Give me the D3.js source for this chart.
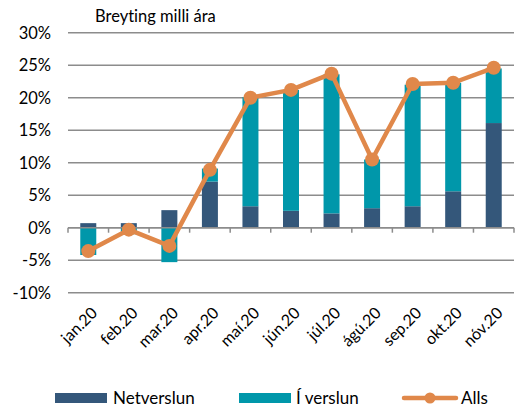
<!DOCTYPE html>
<html>
<head>
<meta charset="utf-8">
<script src="https://cdn.jsdelivr.net/npm/d3@7"></script>
<style>
  body { margin: 0; background: #fff; }
  svg { font-family: Lato, "Open Sans", sans-serif; font-variant-ligatures: none; }
</style>
</head>
<body>
<svg id="chart" width="522" height="407"></svg>
<script>
"use strict";

let months = ["jan.20", "feb.20", "mar.20", "apr.20", "maí.20", "jún.20", "júl.20", "ágú.20", "sep.20", "okt.20", "nóv.20"];
let netverslun = [0.7, 0.7, 2.7, 7.1, 3.3, 2.6, 2.2, 3.0, 3.3, 5.6, 16.1];
let iVerslun = [-4.2, -1.0, -5.3, 2.0, 16.8, 18.6, 21.4, 7.5, 18.7, 16.7, 8.4];
let alls = [-3.6, -0.3, -2.8, 8.9, 20.0, 21.2, 23.7, 10.5, 22.1, 22.3, 24.6];
let yTicks = [-10, -5, 0, 5, 10, 15, 20, 25, 30];

let colNet = "#34577a", colI = "#0097aa", colAlls = "#e0884a";

let svg = d3.select("#chart");
let x = d3.scaleBand().domain(months).range([68, 514]);
let y = d3.scaleLinear().domain([-10, 30]).range([292.7, 32.7]);

// gridlines
svg.append("g").selectAll("line").data(yTicks).enter().append("line")
    .attr("x1", 68).attr("x2", 514)
    .attr("y1", function (d) { return y(d); }).attr("y2", function (d) { return y(d); })
    .attr("stroke", "#8c8c8c").attr("stroke-width", 1.5);

svg.append("g").selectAll("text").data(yTicks).enter().append("text")
    .attr("x", 51).attr("y", function (d) { return y(d); }).attr("dy", "0.36em")
    .attr("text-anchor", "end").attr("font-size", 16.5).attr("fill", "#000")
    .text(function (d) { return d + "%"; });

// stacked bars: positives stack up from 0, negatives down from 0
let bw = 16;
let stacks = months.map(function (m, i) {
    let vals = [{ key: "net", v: netverslun[i] }, { key: "i", v: iVerslun[i] }];
    let pos = 0, neg = 0;
    return vals.map(function (d) {
        let y0, y1;
        if (d.v >= 0) { y0 = pos; pos += d.v; y1 = pos; }
        else { y0 = neg; neg += d.v; y1 = neg; }
        return { m: m, key: d.key, y0: y0, y1: y1 };
    });
});

svg.append("g").selectAll("rect").data(d3.merge(stacks)).enter().append("rect")
    .attr("x", function (d) { return x(d.m) + x.bandwidth() / 2 - bw / 2; })
    .attr("width", bw)
    .attr("y", function (d) { return y(Math.max(d.y0, d.y1)); })
    .attr("height", function (d) { return Math.abs(y(d.y0) - y(d.y1)); })
    .attr("fill", function (d) { return d.key === "net" ? colNet : colI; });

// zero axis with ticks
let ax = svg.append("g").attr("transform", "translate(0," + y(0) + ")");
ax.append("line").attr("x1", 68).attr("x2", 514).attr("stroke", "#8c8c8c").attr("stroke-width", 1.5);
ax.selectAll(".tk").data(d3.range(months.length + 1)).enter().append("line")
    .attr("x1", function (i) { return 68 + i * x.step(); })
    .attr("x2", function (i) { return 68 + i * x.step(); })
    .attr("y1", 0).attr("y2", 5)
    .attr("stroke", "#8c8c8c").attr("stroke-width", 1.5);

// x labels
svg.append("g").selectAll("text").data(months).enter().append("text")
    .attr("transform", function (d) {
        return "translate(" + (x(d) + x.bandwidth() / 2 + 10) + ",314) rotate(-45)";
    })
    .attr("text-anchor", "end").attr("font-size", 16).attr("fill", "#000")
    .text(function (d) { return d; });

// Alls line
let line = d3.line()
    .x(function (d, i) { return x(months[i]) + x.bandwidth() / 2; })
    .y(function (d) { return y(d); });

svg.append("path").datum(alls).attr("d", line)
    .attr("fill", "none").attr("stroke", colAlls).attr("stroke-width", 4.5)
    .attr("stroke-linejoin", "round");

svg.append("g").selectAll("circle").data(alls).enter().append("circle")
    .attr("cx", function (d, i) { return x(months[i]) + x.bandwidth() / 2; })
    .attr("cy", function (d) { return y(d); })
    .attr("r", 7).attr("fill", colAlls);

// title
svg.append("text").attr("x", 95).attr("y", 22).attr("font-size", 16.5).attr("fill", "#000")
    .text("Breyting milli ára");

// legend
let lg = svg.append("g").attr("font-size", 17);
lg.append("rect").attr("x", 55).attr("y", 393).attr("width", 52).attr("height", 10).attr("fill", colNet);
lg.append("text").attr("x", 113).attr("y", 404).text("Netverslun");
lg.append("rect").attr("x", 239).attr("y", 393).attr("width", 52).attr("height", 10).attr("fill", colI);
lg.append("text").attr("x", 296).attr("y", 404).text("Í verslun");
lg.append("line").attr("x1", 404).attr("x2", 456).attr("y1", 398).attr("y2", 398)
    .attr("stroke", colAlls).attr("stroke-width", 4.5).attr("stroke-linecap", "round");
lg.append("circle").attr("cx", 430).attr("cy", 398).attr("r", 5.5).attr("fill", colAlls);
lg.append("text").attr("x", 461).attr("y", 404).text("Alls");
</script>
</body>
</html>
